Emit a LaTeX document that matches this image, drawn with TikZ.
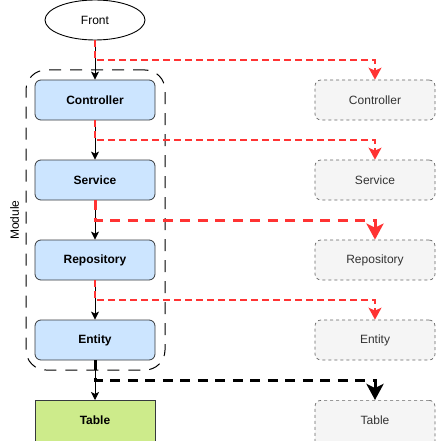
\documentclass[tikz,border=0pt]{standalone}
\usepackage{fontspec}
\setmainfont{Liberation Sans}
\usetikzlibrary{arrows.meta,shapes.geometric}
\definecolor{boxstroke}{HTML}{36393D}
\definecolor{bluefill}{HTML}{CCE5FF}
\definecolor{greenfill}{HTML}{CDEB8B}
\definecolor{ghostfill}{HTML}{F5F5F5}
\definecolor{ghoststroke}{HTML}{666666}
\definecolor{ghosttext}{HTML}{333333}
\definecolor{redline}{HTML}{FF3333}
\tikzset{
  every node/.style={font=\fontsize{12pt}{14pt}\selectfont, inner sep=0pt},
  layerbox/.style={draw=boxstroke, fill=bluefill, rounded corners=6pt, minimum width=120pt, minimum height=40pt, font=\fontsize{12pt}{14pt}\selectfont\bfseries, line width=0.8pt},
  tablebox/.style={draw=boxstroke, fill=greenfill, minimum width=120pt, minimum height=46pt, line width=0.8pt},
  ghostbox/.style={draw=ghoststroke, fill=ghostfill, dash pattern=on 3pt off 3pt, rounded corners=6pt, minimum width=120pt, minimum height=40pt, text=ghosttext, line width=0.7pt},
  groupbox/.style={draw=black, dash pattern=on 12pt off 9pt, rounded corners=20pt, minimum width=139pt, minimum height=300pt, line width=1pt},
  flowarrow/.style={draw=black, line width=0.9pt, -{Stealth[length=8pt,width=8pt,inset=2pt]}},
  redthin/.style={draw=redline, line width=1.8pt, dash pattern=on 6.5pt off 4.5pt, -{Stealth[length=12pt,width=13pt,inset=3pt]}},
  redthick/.style={draw=redline, line width=3pt, dash pattern=on 10pt off 7.5pt, -{Stealth[length=16pt,width=17pt,inset=4pt]}},
  blackthick/.style={draw=black, line width=3pt, dash pattern=on 10pt off 7.5pt, -{Stealth[length=16pt,width=17pt,inset=4pt]}},
}
\begin{document}
\begin{tikzpicture}[x=1pt,y=-1pt]
\useasboundingbox (0,0) rectangle (436,441);
% group
\node[groupbox] (grp) at (95.5,220) {};
\node[rotate=90] (modlabel) at (14.5,220) {Module};
% left column
\node[ellipse, draw=black, line width=0.9pt, fill=white, minimum width=100pt, minimum height=40pt] (front) at (95,20) {Front};
\node[layerbox] (c) at (95,100) {Controller};
\node[layerbox] (s) at (95,180) {Service};
\node[layerbox] (r) at (95,260) {Repository};
\node[layerbox] (e) at (95,340) {Entity};
\node[tablebox, anchor=north] (t) at (95,400) {};
\node[font=\fontsize{12pt}{14pt}\selectfont\bfseries] (tlabel) at (95,420) {Table};
% right column
\node[ghostbox] (rc) at (375,100) {Controller};
\node[ghostbox] (rs) at (375,180) {Service};
\node[ghostbox] (rr) at (375,260) {Repository};
\node[ghostbox] (re) at (375,340) {Entity};
\node[ghostbox, minimum height=46pt, anchor=north] (rt) at (375,400) {};
\node[text=ghosttext] (rtlabel) at (375,420) {Table};
% flow arrows
\draw[flowarrow] (front) -- (c);
\draw[flowarrow] (c) -- (s);
\draw[flowarrow] (s) -- (r);
\draw[flowarrow] (r) -- (e);
\draw[flowarrow] (e) -- (t);
% corner coordinates
\coordinate (k1) at (375,60);
\coordinate (k2) at (375,140);
\coordinate (k3) at (375,220);
\coordinate (k4) at (375,300);
\coordinate (k5) at (375,380);
% dashed connectors
\draw[redthin] (front.south) |- (k1) -- (rc.north);
\draw[redthin] (c.south) |- (k2) -- (rs.north);
\draw[redthick] (s.south) |- (k3) -- (rr.north);
\draw[redthin] (r.south) |- (k4) -- (re.north);
\draw[blackthick] (e.south) |- (k5) -- (rt.north);
\end{tikzpicture}
\end{document}
